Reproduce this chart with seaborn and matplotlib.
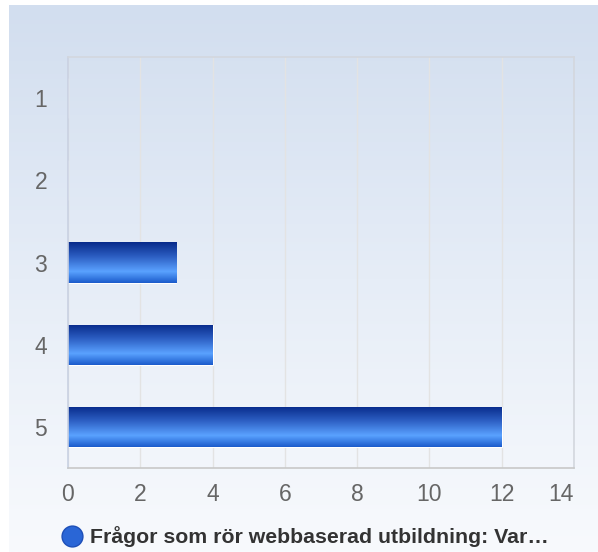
import matplotlib.pyplot as plt
import matplotlib.colors as mcolors
import matplotlib.transforms as mtransforms
from matplotlib.lines import Line2D
import numpy as np
import pandas as pd
import seaborn as sns

# data
categories = ["1", "2", "3", "4", "5"]
counts = [0, 0, 3, 4, 12]
series_name = "Frågor som rör webbaserad utbildning: Var…"
x_ticks = [0, 2, 4, 6, 8, 10, 12, 14]

sns.set_style("white")
plt.rcParams["font.family"] = ["Liberation Sans", "DejaVu Sans"]

fig = plt.figure(figsize=(5.98, 5.52), dpi=100)
fig.patch.set_facecolor("white")

# background gradient panel (light blue at top -> near white at bottom)
bg = fig.add_axes([9 / 598, 0, 1 - 9 / 598, 1 - 5 / 552], zorder=-2)
bg_cmap = mcolors.LinearSegmentedColormap.from_list("bg", ["#d2deef", "#e6edf7", "#f8fafd"])
bg.imshow(np.linspace(0, 1, 256).reshape(-1, 1), cmap=bg_cmap, aspect="auto",
          extent=(0, 1, 0, 1), origin="upper")
bg.set_axis_off()

ax = fig.add_axes([68 / 598, 1 - 468 / 552, 506 / 598, 411 / 552])
ax.patch.set_alpha(0)

df = pd.DataFrame({"category": categories, "count": counts})
sns.barplot(data=df, x="count", y="category", order=categories, orient="h",
            color="#2f6fdc", width=0.49, ax=ax, edgecolor="white", linewidth=0.8)

# vertical gradient inside each bar
bar_cmap = mcolors.LinearSegmentedColormap.from_list(
    "bar", [(0, "#072a8a"), (0.35, "#2c5ec2"), (0.72, "#5aa2ff"), (1, "#1b5bcb")])
grad = np.linspace(0, 1, 128).reshape(-1, 1)
for p in ax.patches:
    w = p.get_width()
    if w <= 0:
        continue
    y0 = p.get_y()
    y1 = y0 + p.get_height()
    im = ax.imshow(grad, cmap=bar_cmap, aspect="auto", origin="upper",
                   extent=(p.get_x(), p.get_x() + w, y1, y0), zorder=2.5)
    im.set_clip_path(p)

ax.set_xlim(0, 14)
ax.set_ylim(4.5, -0.5)
ax.set_xticks(x_ticks)
ax.set_xlabel("")
ax.set_ylabel("")
ax.xaxis.grid(True, color="#e3e3e3", linewidth=1)
ax.yaxis.grid(False)
ax.set_axisbelow(True)
ax.tick_params(axis="both", length=0, labelsize=16.5, labelcolor="#666666")
ax.tick_params(axis="x", pad=10.5)
ax.tick_params(axis="y", pad=15)
for side, c in [("top", "#d3d7de"), ("right", "#d3d7de"), ("bottom", "#c8c8c8"), ("left", "#c9d1e2")]:
    ax.spines[side].set_visible(True)
    ax.spines[side].set_color(c)
    ax.spines[side].set_linewidth(1.2)

# last x label sits a little inside the plot edge, as in the reference
last = ax.get_xticklabels()[-1]
last.set_transform(last.get_transform() + mtransforms.ScaledTranslation(-13 / 100, 0, fig.dpi_scale_trans))

handle = Line2D([], [], marker="o", linestyle="", markersize=15,
                markerfacecolor="#2a66d6", markeredgecolor="#1d4fb8")
fig.legend([handle], [series_name], loc="center", bbox_to_anchor=(0.508, 1 - 537 / 552),
           frameon=False, handletextpad=0.25, handlelength=1.2,
           prop={"weight": "bold", "size": 15.3}, labelcolor="#333333")

fig.savefig("out.png", dpi=100)
